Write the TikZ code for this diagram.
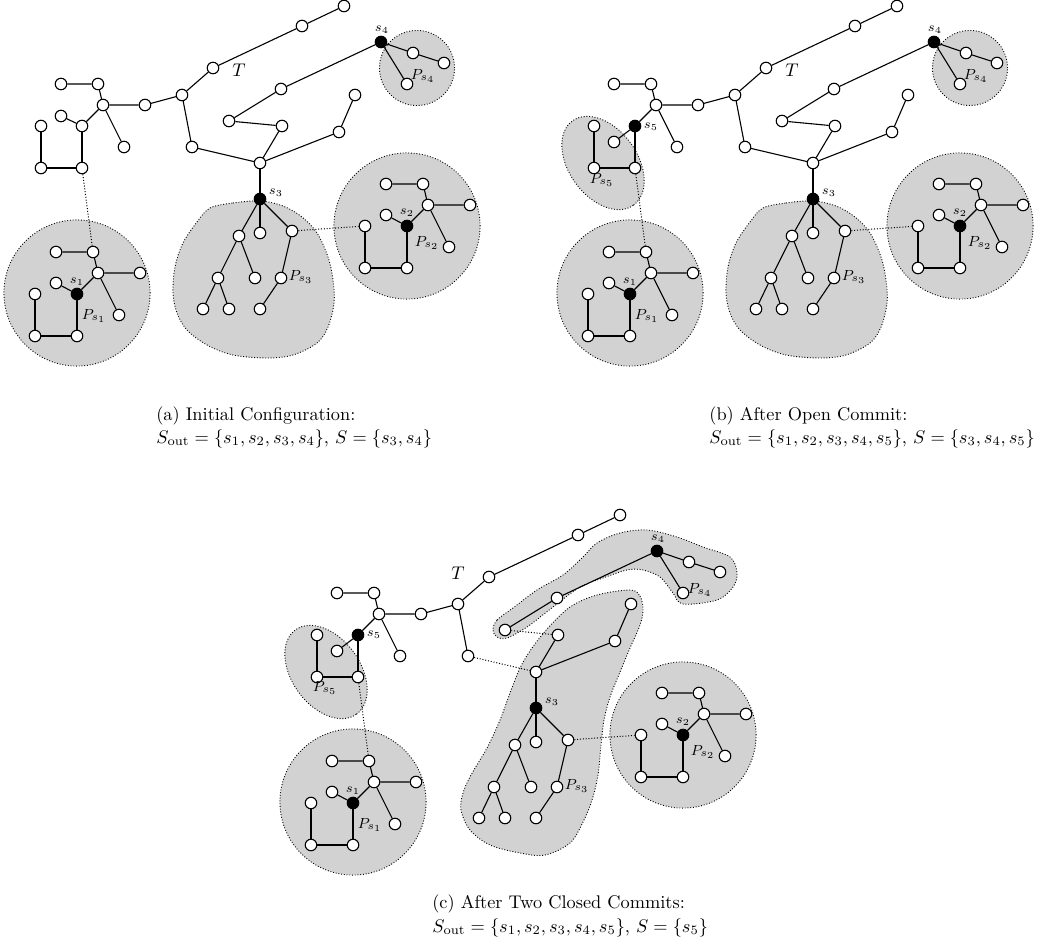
\documentclass[tikz,border=0pt]{standalone}
\tikzset{
  v/.style={circle, draw, fill=white, inner sep=0pt, minimum size=6.3pt, line width=0.6pt},
  sv/.style={v, fill=black},
  e/.style={line width=0.6pt},
  de/.style={line width=0.55pt, densely dotted},
  region/.style={fill=gray!35, draw=black, line width=0.5pt, densely dotted},
  slab/.style={font=\scriptsize, inner sep=0pt},
  plab/.style={font=\footnotesize, inner sep=0pt},
  tlab/.style={font=\normalsize, inner sep=0pt},
  captext/.style={anchor=base west, inner sep=0pt, font=\normalsize},
}
\newcommand{\RSnodes}[3]{%
  \node[v] (#1t1) at (344,6) {};
  \node[v] (#1t2) at (302,26) {};
  \node[v] (#1t3) at (213,68) {};
  \node[v] (#1t4) at (182,95) {};
  \node[v] (#1t5) at (145,105) {};
  \node[v] (#1t6) at (103,105) {};
  \node[v] (#1t7) at (98,84) {};
  \node[v] (#1t8) at (61,84) {};
  \node[#2] (#1t9) at (82,126) {};
  \node[v] (#1t10) at (61,#3) {};
  \node[v] (#1t11) at (124,147) {};
  \node[v] (#1t12) at (82,168) {};
  \node[v] (#1t13) at (41,168) {};
  \node[v] (#1t14) at (41,126) {};
  \node[v] (#1t15) at (192,147) {};
  \node[v] (#1t16) at (260,163) {};
  \node[v] (#1t17) at (282,126) {};
  \node[v] (#1t18) at (229,121) {};
  \node[v] (#1t19) at (281,89) {};
  \node[sv] (#1s4) at (381,42) {};
  \node[v] (#1t20) at (413,53) {};
  \node[v] (#1t21) at (444,63) {};
  \node[v] (#1t22) at (407,84) {};
  \node[v] (#1t23) at (339,132) {};
  \node[v] (#1t24) at (355,95) {};
  \node[sv] (#1s3) at (260,199) {};
  \node[v] (#1u1) at (239,236) {};
  \node[v] (#1u2) at (260,233) {};
  \node[v] (#1u3) at (292,231) {};
  \node[v] (#1u4) at (218,278) {};
  \node[v] (#1u5) at (255,278) {};
  \node[v] (#1u6) at (281,278) {};
  \node[v] (#1u7) at (203,309) {};
  \node[v] (#1u8) at (229,309) {};
  \node[v] (#1u9) at (260,309) {};
  \node[v] (#1p1) at (56,252) {};
  \node[v] (#1p2) at (93,252) {};
  \node[v] (#1p3) at (98,273) {};
  \node[v] (#1p4) at (140,273) {};
  \node[v] (#1p5) at (56,283) {};
  \node[sv] (#1s1) at (77,294) {};
  \node[v] (#1p6) at (35,294) {};
  \node[v] (#1p7) at (119,315) {};
  \node[v] (#1p8) at (35,336) {};
  \node[v] (#1p9) at (77,336) {};
  \node[v] (#1q1) at (386,184) {};
  \node[v] (#1q2) at (423,184) {};
  \node[v] (#1q3) at (428,205) {};
  \node[v] (#1q4) at (470,205) {};
  \node[v] (#1q5) at (386,215) {};
  \node[sv] (#1s2) at (407,226) {};
  \node[v] (#1q6) at (365,226) {};
  \node[v] (#1q7) at (449,247) {};
  \node[v] (#1q8) at (365,268) {};
  \node[v] (#1q9) at (407,268) {};
}
\newcommand{\RSedges}[1]{%
  \draw[e] (#1t1) -- (#1t2) -- (#1t3) -- (#1t4) -- (#1t5) -- (#1t6) -- (#1t7) -- (#1t8);
  \draw[e] (#1t6) -- (#1t9) -- (#1t10);
  \draw[e] (#1t6) -- (#1t11);
  \draw[e] (#1t9) -- (#1t12) -- (#1t13) -- (#1t14);
  \draw[e] (#1t4) -- (#1t15);
  \draw[e] (#1t16) -- (#1t17);
  \draw[e] (#1t18) -- (#1t19) -- (#1s4);
  \draw[e] (#1t16) -- (#1t23) -- (#1t24);
  \draw[e] (#1t16) -- (#1s3);
  \draw[e] (#1s4) -- (#1t20) -- (#1t21);
  \draw[e] (#1s4) -- (#1t22);
  \draw[e] (#1s3) -- (#1u1) -- (#1u4) -- (#1u7);
  \draw[e] (#1u4) -- (#1u8);
  \draw[e] (#1u1) -- (#1u5);
  \draw[e] (#1s3) -- (#1u2);
  \draw[e] (#1s3) -- (#1u3) -- (#1u6) -- (#1u9);
  \draw[e] (#1p1) -- (#1p2) -- (#1p3) -- (#1p4);
  \draw[e] (#1p3) -- (#1s1) -- (#1p5);
  \draw[e] (#1p3) -- (#1p7);
  \draw[e] (#1s1) -- (#1p9) -- (#1p8) -- (#1p6);
  \draw[e] (#1q1) -- (#1q2) -- (#1q3) -- (#1q4);
  \draw[e] (#1q3) -- (#1s2) -- (#1q5);
  \draw[e] (#1q3) -- (#1q7);
  \draw[e] (#1s2) -- (#1q9) -- (#1q8) -- (#1q6);
  \draw[de] (#1t12) -- (#1p2);
  \draw[de] (#1u3) -- (#1q6);
}
\newcommand{\RSlabels}[1]{%
  \node[slab] (#1ls4) at (382,30) {$s_4$};
  \node[slab] (#1ls3) at (276,193) {$s_3$};
  \node[slab] (#1ls1) at (77,282) {$s_1$};
  \node[slab] (#1ls2) at (407,213) {$s_2$};
  \node[plab] (#1lp1) at (94,316) {$P_{s_1}$};
  \node[plab] (#1lp2) at (427,243) {$P_{s_2}$};
  \node[plab] (#1lp3) at (301,277) {$P_{s_3}$};
}
\newcommand{\RScircles}{%
  \draw[region] (77,293) circle [radius=39.9pt];
  \draw[region] (407,226) circle [radius=39.9pt];
}
\newcommand{\RSblobthree}{%
  \draw[region] plot[smooth cycle, tension=0.55] coordinates {(210,208) (233,203) (260,201) (283,206) (302,217) (317,233) (328,257) (333,280) (334,303) (328,327) (317,343) (293,355) (267,358) (233,355) (207,345) (187,330) (177,313) (173,293) (175,267) (183,243) (197,222)};
}
\newcommand{\RSellipsefive}{%
  \begin{scope}[shift={(50,163)}, rotate=-54]
    \draw[region] (0,0) ellipse [x radius=28.4pt, y radius=18.6pt];
  \end{scope}
}
\begin{document}
\begin{tikzpicture}[x=0.546pt, y=-0.546pt]
\useasboundingbox (0,0) rectangle (1047,939);

% ---------------- panel (a)
\begin{scope}
  \RScircles
  \RSblobthree
  \draw[region] (417,68) circle [radius=20.5pt];
  \RSnodes{a}{v}{116}
  \RSedges{a}
  \draw[e] (at15) -- (at16);
  \draw[e] (at17) -- (at18);
  \RSlabels{a}
  \node[tlab] (aT) at (239,70) {$T$};
  \node[plab] (alp4) at (423,76) {$P_{s_4}$};
\end{scope}

% ---------------- panel (b)
\begin{scope}[shift={(553,0)}]
  \RScircles
  \RSblobthree
  \draw[region] (417,68) circle [radius=20.5pt];
  \RSellipsefive
  \RSnodes{b}{sv}{142}
  \RSedges{b}
  \draw[e] (bt15) -- (bt16);
  \draw[e] (bt17) -- (bt18);
  \RSlabels{b}
  \node[tlab] (bT) at (239,70) {$T$};
  \node[plab] (blp4) at (423,76) {$P_{s_4}$};
  \node[slab] (bls5) at (98,127) {$s_5$};
  \node[plab] (blp5) at (49,180) {$P_{s_5}$};
\end{scope}

% ---------------- panel (c)
\begin{scope}[shift={(276,509)}]
  \RScircles
  \RSellipsefive
  \draw[region] plot[smooth cycle, tension=0.55] coordinates {(354,81) (364,87) (367,101) (364,116) (354,139) (344,163) (334,188) (328,211) (325,236) (322,266) (316,291) (307,313) (294,334) (269,346) (244,344) (214,336) (194,321) (185,301) (187,284) (195,266) (211,239) (224,211) (234,184) (244,159) (256,139) (272,119) (294,98) (321,86)};
  \draw[region] plot[smooth cycle, tension=0.55] coordinates {(217,121) (221,111) (237,99) (261,81) (287,66) (307,48) (321,34) (344,24) (371,21) (401,28) (427,38) (454,48) (461,64) (457,78) (441,91) (407,95) (397,84) (384,68) (367,61) (351,61) (327,69) (304,78) (277,98) (251,118) (231,129) (221,128)};
  \RSnodes{c}{sv}{142}
  \RSedges{c}
  \draw[de] (ct15) -- (ct16);
  \draw[de] (ct17) -- (ct18);
  \RSlabels{c}
  \node[tlab] (cT) at (182,64) {$T$};
  \node[plab] (clp4) at (424,81) {$P_{s_4}$};
  \node[slab] (cls5) at (98,126) {$s_5$};
  \node[plab] (clp5) at (49,179) {$P_{s_5}$};
\end{scope}

% ---------------- captions
\node[captext] (capa1) at (156,420) {(a) Initial Configuration:};
\node[captext] (capa2) at (156,443) {$S_{\mathrm{out}}=\{s_1,s_2,s_3,s_4\}$, $S=\{s_3,s_4\}$};
\node[captext] (capb1) at (709,420) {(b) After Open Commit:};
\node[captext] (capb2) at (709,443) {$S_{\mathrm{out}}=\{s_1,s_2,s_3,s_4,s_5\}$, $S=\{s_3,s_4,s_5\}$};
\node[captext] (capc1) at (432,908) {(c) After Two Closed Commits:};
\node[captext] (capc2) at (432,932) {$S_{\mathrm{out}}=\{s_1,s_2,s_3,s_4,s_5\}$, $S=\{s_5\}$};
\end{tikzpicture}
\end{document}
